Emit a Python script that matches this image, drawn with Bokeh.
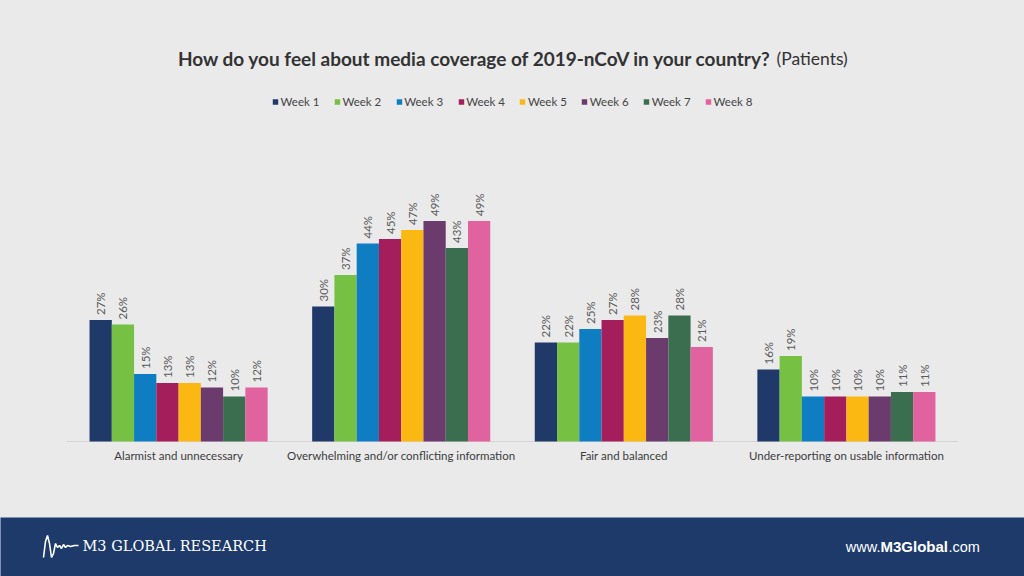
import math
from bokeh.plotting import figure
from bokeh.models import FactorRange, Range1d, ColumnDataSource, Legend, LegendItem
from bokeh.layouts import column
from bokeh.core.properties import value
from bokeh.embed import file_html
from bokeh.resources import INLINE

# ---- data ----
categories = [
    "Alarmist and unnecessary",
    "Overwhelming and/or conflicting information",
    "Fair and balanced",
    "Under-reporting on usable information",
]
weeks = ["Week 1", "Week 2", "Week 3", "Week 4", "Week 5", "Week 6", "Week 7", "Week 8"]
week1 = [27, 30, 22, 16]
week2 = [26, 37, 22, 19]
week3 = [15, 44, 25, 10]
week4 = [13, 45, 27, 10]
week5 = [13, 47, 28, 10]
week6 = [12, 49, 23, 10]
week7 = [10, 43, 28, 11]
week8 = [12, 49, 21, 11]
series = [week1, week2, week3, week4, week5, week6, week7, week8]
colors = ["#1f3a68", "#76c043", "#0f7dc2", "#a51e5c", "#fbb812", "#6b3b6e", "#3b6e4f", "#e0629f"]

BG = "#eaeaeb"
NAVY = "#1d3a6b"
FONT = "Lato"

# ---- header (title) ----
HEADER_H = 80
h = figure(width=1024, height=HEADER_H, x_range=Range1d(0, 1024), y_range=Range1d(HEADER_H, 0),
           output_backend="svg", toolbar_location=None, min_border=0,
           background_fill_color=BG, border_fill_color=BG, outline_line_color=None)
h.axis.visible = False
h.grid.visible = False
h.text(x=[772], y=[58], text=["How do you feel about media coverage of 2019-nCoV in your country?"],
       text_align="right", text_baseline="middle",
       text_font=value(FONT), text_font_style="bold", text_font_size="19px", text_color="#333333")
h.text(x=[776], y=[58], text=["(Patients)"], text_align="left", text_baseline="middle",
       text_font=value(FONT), text_font_size="17.5px", text_color="#333333")

# ---- main chart ----
factors = [(c, w) for c in categories for w in weeks]
MAIN_H = 517 - HEADER_H
BOTTOM = 76
PX_PER_PCT = 4.5

p = figure(
    width=1024, height=MAIN_H,
    x_range=FactorRange(*factors, factor_padding=0, group_padding=2,
                        range_padding=4, range_padding_units="absolute"),
    y_range=Range1d(-BOTTOM / PX_PER_PCT, (MAIN_H - BOTTOM) / PX_PER_PCT),
    output_backend="svg", toolbar_location=None, min_border=0,
    background_fill_color=BG, border_fill_color=BG, outline_line_color=None,
)
p.axis.visible = False
p.grid.visible = False

# baseline (category axis line)
p.segment(x0=[(categories[0], weeks[0], -1.5)], y0=[0],
          x1=[(categories[-1], weeks[-1], 1.5)], y1=[0],
          line_color="#d2d2d2", line_width=1)

items = []
for w, vals, col in zip(weeks, series, colors):
    src = ColumnDataSource(dict(
        x=[(c, w) for c in categories],
        top=vals,
        lbl=[f"{v}%" for v in vals],
    ))
    r = p.vbar(x="x", top="top", width=1.0, source=src, fill_color=col, line_color=None)
    p.text(x="x", y="top", text="lbl", source=src, angle=math.pi / 2,
           text_align="left", text_baseline="middle", y_offset=-5,
           text_font=value(FONT), text_font_size="11.5px", text_color="#5a5a5a")
    items.append(LegendItem(label=w, renderers=[r]))

# category labels
p.text(x=categories, y=[0] * len(categories), text=categories, y_offset=14,
       text_align="center", text_baseline="middle",
       text_font=value(FONT), text_font_size="11.5px", text_color="#3c3c3c")

legend = Legend(items=items, orientation="horizontal", location="top_center",
                margin=14, padding=0, spacing=14, glyph_width=7, glyph_height=7,
                label_height=14, label_standoff=2,
                label_text_font=FONT, label_text_font_size="11.5px", label_text_color="#444444",
                border_line_color=None, background_fill_alpha=0)
p.add_layout(legend, "center")

# ---- footer ----
f = figure(width=1024, height=59, x_range=Range1d(0, 1024), y_range=Range1d(59, 0),
           output_backend="svg", toolbar_location=None, min_border=0,
           background_fill_color=NAVY, border_fill_color=NAVY, outline_line_color=None)
f.axis.visible = False
f.grid.visible = False
wave_x = [43, 45, 47, 49, 51, 53, 55, 57, 59, 61, 63, 65, 67, 70, 74, 78]
wave_y = [40, 24, 18, 26, 40, 36, 26, 30, 28, 31, 27, 30, 28, 29, 28, 28]
f.line(wave_x, wave_y, line_color="white", line_width=1.6)
f.text(x=[82], y=[28], text=["M3  GLOBAL  RESEARCH"], text_align="left", text_baseline="middle",
       text_font=value("DejaVu Serif"), text_font_size="14.5px", text_color="white")
f.text(x=[880], y=[29], text=["www."], text_align="right", text_baseline="middle",
       text_font=value("Liberation Sans"), text_font_size="14.5px", text_color="white")
f.text(x=[880], y=[29], text=["M3Global"], text_align="left", text_baseline="middle",
       text_font=value("Liberation Sans"), text_font_style="bold", text_font_size="15px", text_color="white")
f.text(x=[948], y=[29], text=[".com"], text_align="left", text_baseline="middle",
       text_font=value("Liberation Sans"), text_font_size="14.5px", text_color="white")

layout = column(h, p, f, spacing=0, styles={"background-color": BG})
open("out.html", "w").write(file_html(layout, INLINE))
